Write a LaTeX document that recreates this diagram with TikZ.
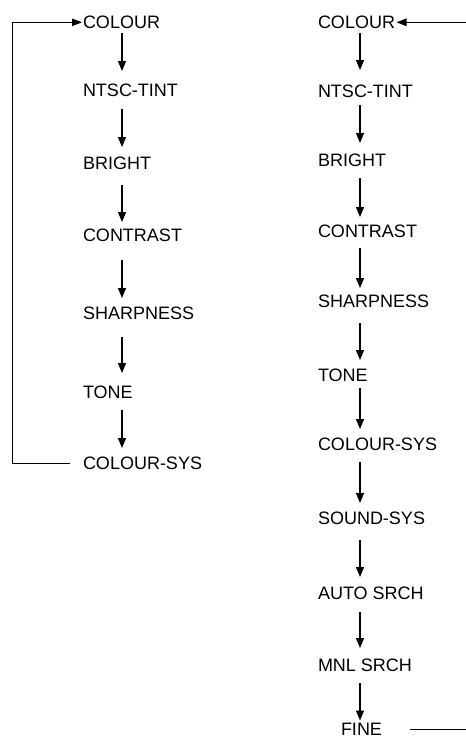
\documentclass[tikz,border=0pt]{standalone}
\usepackage{fontspec}
\setmainfont{Liberation Sans}
\usetikzlibrary{arrows.meta,calc}
\tikzset{
  lbl/.style={inner sep=0pt, outer sep=0pt, anchor=base west, font=\fontsize{18}{21}\selectfont},
  flowarrow/.style={line width=1.2pt, -{Triangle[length=10pt,width=8pt]}},
  loopline/.style={line width=1pt},
  looparrow/.style={line width=1pt, -{Triangle[length=10pt,width=7.5pt]}},
}
\newcommand\flowlink[5]{\draw[flowarrow] ($(#1.base -| #3)+(0,-#4pt)$) -- ($(#2.base -| #3)+(0,#5pt)$);}
\begin{document}
\begin{tikzpicture}[x=1pt,y=-1pt]
\useasboundingbox (0,0) rectangle (466,740);
% column guides
\coordinate (lx) at (12,0);
\coordinate (lax) at (122,0);
\coordinate (rax) at (360,0);
\coordinate (rx) at (472,0);
% left column
\node[lbl] (l1) at (83,28.5) {COLOUR};
\node[lbl] (l2) at (83,96.5) {NTSC-TINT};
\node[lbl] (l3) at (83,169.5) {BRIGHT};
\node[lbl] (l4) at (83,241.5) {CONTRAST};
\node[lbl] (l5) at (83,319.5) {SHARPNESS};
\node[lbl] (l6) at (83,398.5) {TONE};
\node[lbl] (l7) at (83,469.5) {COLOUR-SYS};
% right column
\node[lbl] (r1) at (318,28.5) {COLOUR};
\node[lbl] (r2) at (318,97.5) {NTSC-TINT};
\node[lbl] (r3) at (318,166.5) {BRIGHT};
\node[lbl] (r4) at (318,237.5) {CONTRAST};
\node[lbl] (r5) at (318,307.5) {SHARPNESS};
\node[lbl] (r6) at (318,381.5) {TONE};
\node[lbl] (r7) at (318,450.5) {COLOUR-SYS};
\node[lbl] (r8) at (318,524.5) {SOUND-SYS};
\node[lbl] (r9) at (318,599.5) {AUTO SRCH};
\node[lbl] (r10) at (318,671.5) {MNL SRCH};
\node[lbl, anchor=base] (r11) at (361.5,735.5) {FINE};
% left arrows
\flowlink{l1}{l2}{lax}{4.5}{25.5}
\flowlink{l2}{l3}{lax}{12.5}{22.5}
\flowlink{l3}{l4}{lax}{15.5}{19.5}
\flowlink{l4}{l5}{lax}{18.5}{21.5}
\flowlink{l5}{l6}{lax}{17.5}{25.5}
\flowlink{l6}{l7}{lax}{11.5}{21.5}
% right arrows
\flowlink{r1}{r2}{rax}{4.5}{27.5}
\flowlink{r2}{r3}{rax}{7.5}{23.5}
\flowlink{r3}{r4}{rax}{11.5}{20.5}
\flowlink{r4}{r5}{rax}{10.5}{19.5}
\flowlink{r5}{r6}{rax}{15.5}{21.5}
\flowlink{r6}{r7}{rax}{6.5}{21.5}
\flowlink{r7}{r8}{rax}{11.5}{21.5}
\flowlink{r8}{r9}{rax}{15.5}{22.5}
\flowlink{r9}{r10}{rax}{12.5}{23.5}
\flowlink{r10}{r11}{rax}{11.5}{15}
% loops
\draw[looparrow] ($(l7.west)+(-13pt,0)$) -- (l7.west -| lx) -- (l1.west -| lx) -- ($(l1.west)+(-1pt,0)$);
\draw[looparrow] (r1.east -| rx) -- ($(r1.east)+(1.5pt,0)$);
\draw[loopline] ($(r11.east)+(28pt,0)$) -- (r11.east -| rx);
\end{tikzpicture}
\end{document}
